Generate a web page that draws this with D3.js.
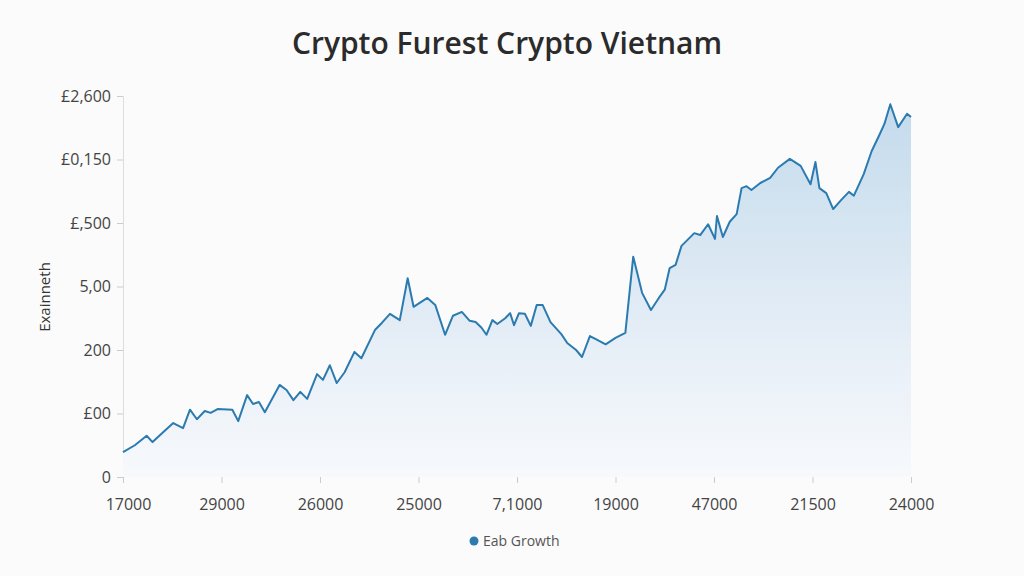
<!DOCTYPE html>
<html>
<head>
<meta charset="UTF-8">
<style>
  body { margin: 0; background: #fbfbfb; font-family: "Open Sans", "Noto Sans", sans-serif; }
  svg { display: block; }
</style>
</head>
<body>
<svg width="1024" height="576"></svg>
<script src="https://d3js.org/d3.v7.min.js"></script>
<script>
// values (x in 0..800 positions, y in 0..600)
const xs = [0,12,24,30,41,51,61,68,75,83,89,96,111,117,126,132,138,144,159,166,173,180,187,197,203,210,217,225,235,242,256,263,271,281,289,295,309,317,327,335,344,352,358,364,369,375,380,388,393,397,402,408,414,420,426,434,445,451,460,466,474,480,490,500,510,518,527,536,544,550,555,561,567,580,586,594,601,603,609,616,623,628,633,638,647,657,665,677,688,698,703,707,714,721,729,737,742,752,760,768,773,779,787,796,800];
const ys = [39,50,65,55,71,85,77,106,91,104,101,107,106,88,129,115,118,102,145,137,121,134,123,162,153,176,148,165,197,187,232,243,257,247,313,268,282,271,224,254,260,246,244,235,224,247,241,250,258,239,258,257,238,271,271,244,225,211,200,189,222,217,209,219,227,347,290,263,282,295,329,334,364,384,381,398,375,411,378,402,414,455,458,452,463,471,487,501,490,461,496,455,447,422,436,449,443,477,513,539,556,587,551,572,567];
const xTickLabels = ["17000","29000","26000","25000","7,1000","19000","47000","21500","24000"];
const yTickLabels = ["0","£00","200","5,00","£,500","£0,150","£2,600"];

const svg = d3.select("svg");
const m = {l: 123, r: 911, t: 96, b: 477};
const x = d3.scaleLinear().domain([0, 800]).range([m.l, m.r]);
const y = d3.scaleLinear().domain([0, 600]).range([m.b, m.t]);
const data = xs.map((v, i) => ({x: v, y: ys[i]}));

const grad = svg.append("defs").append("linearGradient")
  .attr("id", "fill").attr("x1", 0).attr("x2", 0).attr("y1", 0).attr("y2", 1);
grad.append("stop").attr("offset", "0%").attr("stop-color", "#c4dbec");
grad.append("stop").attr("offset", "60%").attr("stop-color", "#e4edf6");
grad.append("stop").attr("offset", "100%").attr("stop-color", "#f7f9fc");

svg.append("text").attr("x", 507).attr("y", 54).attr("text-anchor", "middle")
  .attr("font-size", 30).attr("font-weight", 600).attr("fill", "#2b2b2b")
  .text("Crypto Furest Crypto Vietnam");

// y axis
const ya = svg.append("g").attr("transform", `translate(${m.l},0)`)
  .call(d3.axisLeft(y).tickValues(d3.range(0, 601, 100)).tickSize(6)
    .tickFormat((d, i) => yTickLabels[i]));
ya.select(".domain").attr("stroke", "#ddd");
ya.selectAll(".tick line").attr("stroke", "#ccc");
ya.selectAll("text").attr("font-size", 16).attr("fill", "#444").attr("x", -12)
  .attr("font-family", "Open Sans, sans-serif");

// x axis
const xa = svg.append("g").attr("transform", `translate(0,${m.b})`)
  .call(d3.axisBottom(x).tickValues(d3.range(0, 801, 100)).tickSize(6)
    .tickFormat((d, i) => xTickLabels[i]));
xa.select(".domain").remove();
xa.selectAll(".tick line").attr("stroke", "#ccc");
xa.selectAll("text").attr("font-size", 16).attr("fill", "#444").attr("dy", "1.5em")
  .attr("font-family", "Open Sans, sans-serif");
xa.select(".tick text").attr("dx", 5);

svg.append("path").datum(data)
  .attr("fill", "url(#fill)")
  .attr("d", d3.area().x(d => x(d.x)).y0(y(0)).y1(d => y(d.y)));

svg.append("path").datum(data)
  .attr("fill", "none").attr("stroke", "#2b7bb0").attr("stroke-width", 2)
  .attr("stroke-linejoin", "round")
  .attr("d", d3.line().x(d => x(d.x)).y(d => y(d.y)));

svg.append("text").attr("transform", "translate(50,297) rotate(-90)")
  .attr("text-anchor", "middle").attr("font-size", 15).attr("fill", "#333")
  .text("Exainneth");

// legend
svg.append("circle").attr("cx", 474).attr("cy", 541).attr("r", 4.5).attr("fill", "#2b7bb0");
svg.append("text").attr("x", 483).attr("y", 546).attr("font-size", 14).attr("fill", "#555")
  .text("Eab Growth");
</script>
</body>
</html>
